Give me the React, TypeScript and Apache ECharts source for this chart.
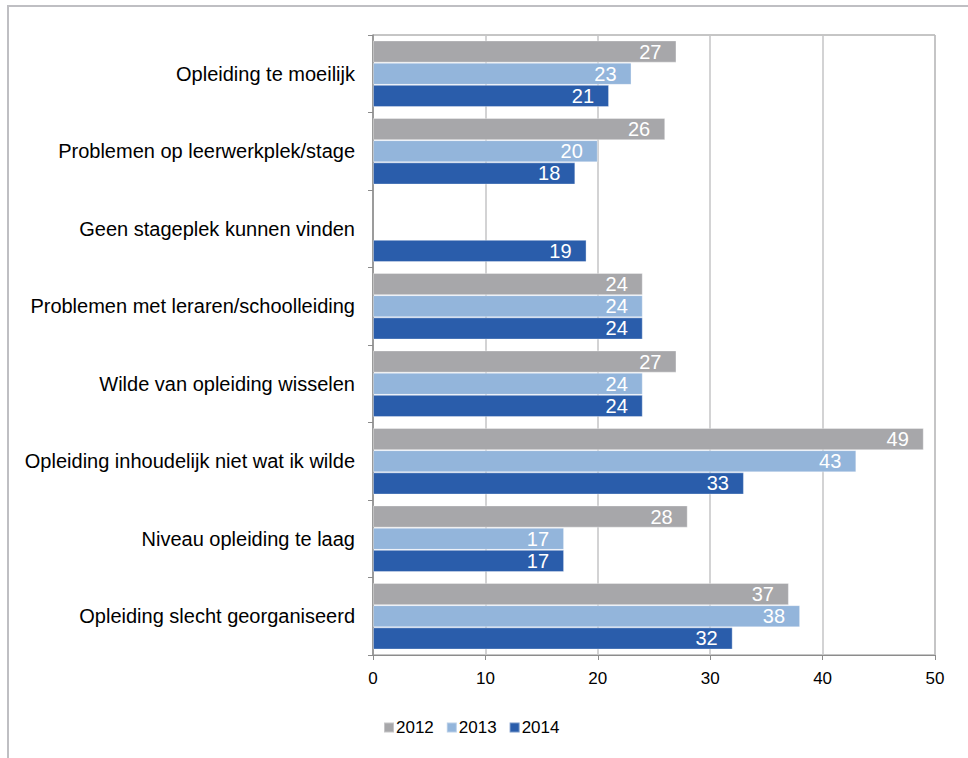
import React, { useEffect, useRef } from "react";
import * as echarts from "echarts";

const categories = [
  "Opleiding te moeilijk",
  "Problemen op leerwerkplek/stage",
  "Geen stageplek kunnen vinden",
  "Problemen met leraren/schoolleiding",
  "Wilde van opleiding wisselen",
  "Opleiding inhoudelijk niet wat ik wilde",
  "Niveau opleiding te laag",
  "Opleiding slecht georganiseerd",
];
const values2012 = [27, 26, null, 24, 27, 49, 28, 37];
const values2013 = [23, 20, null, 24, 24, 43, 17, 38];
const values2014 = [21, 18, 19, 24, 24, 33, 17, 32];
const seriesNames = ["2012", "2013", "2014"];
const colors = ["#a7a7aa", "#93b5db", "#2a5dab"];

const FONT = "'Liberation Sans', Arial, sans-serif";

export default function App() {
  const ref = useRef<HTMLDivElement>(null);
  useEffect(() => {
    document.body.style.margin = "0";
    const chart = echarts.init(ref.current!, null, { renderer: "svg" });
    const data = [values2012, values2013, values2014];
    chart.setOption({
      animation: false,
      backgroundColor: "#ffffff",
      textStyle: { fontFamily: FONT },
      graphic: [
        {
          type: "rect",
          shape: { x: 8, y: 6, width: 980, height: 800 },
          style: { fill: "none", stroke: "#bfbfc3", lineWidth: 2 },
          silent: true,
        },
      ],
      grid: {
        left: 373,
        top: 35,
        right: 33,
        bottom: 103,
        show: true,
        borderColor: "#8c8c8c",
        borderWidth: 1,
      },
      legend: {
        data: seriesNames,
        left: 383,
        top: 719,
        padding: 0,
        itemWidth: 10,
        itemHeight: 10,
        itemGap: 12,
        icon: "rect",
        textStyle: { fontSize: 17, color: "#000", fontFamily: FONT, padding: [0, 0, 0, -3] },
      },
      xAxis: {
        type: "value",
        min: 0,
        max: 50,
        interval: 10,
        axisLine: { show: true, lineStyle: { color: "#8c8c8c" } },
        axisTick: { show: true, length: 5, lineStyle: { color: "#8c8c8c" } },
        axisLabel: { fontSize: 17, color: "#000", margin: 15, fontFamily: FONT },
        splitLine: { show: true, lineStyle: { color: "#c4c4c6", width: 1.5 } },
      },
      yAxis: {
        type: "category",
        data: categories,
        inverse: true,
        axisLine: { show: true, lineStyle: { color: "#8c8c8c", width: 1.5 } },
        axisTick: { show: true, length: 5, lineStyle: { color: "#8c8c8c" } },
        axisLabel: { fontSize: 20, color: "#000", margin: 18, fontFamily: FONT },
      },
      series: data.map((d, i) => ({
        name: seriesNames[i],
        type: "bar",
        data: d,
        barGap: "0%",
        barCategoryGap: "14%",
        itemStyle: { color: colors[i], borderColor: "rgba(255,255,255,0.35)", borderWidth: 1 },
        label: {
          show: true,
          position: "insideRight",
          distance: 15,
          color: "#ffffff",
          fontSize: 20,
          fontFamily: FONT,
        },
      })),
    });
    return () => chart.dispose();
  }, []);
  return <div ref={ref} style={{ width: 968, height: 758 }} />;
}
